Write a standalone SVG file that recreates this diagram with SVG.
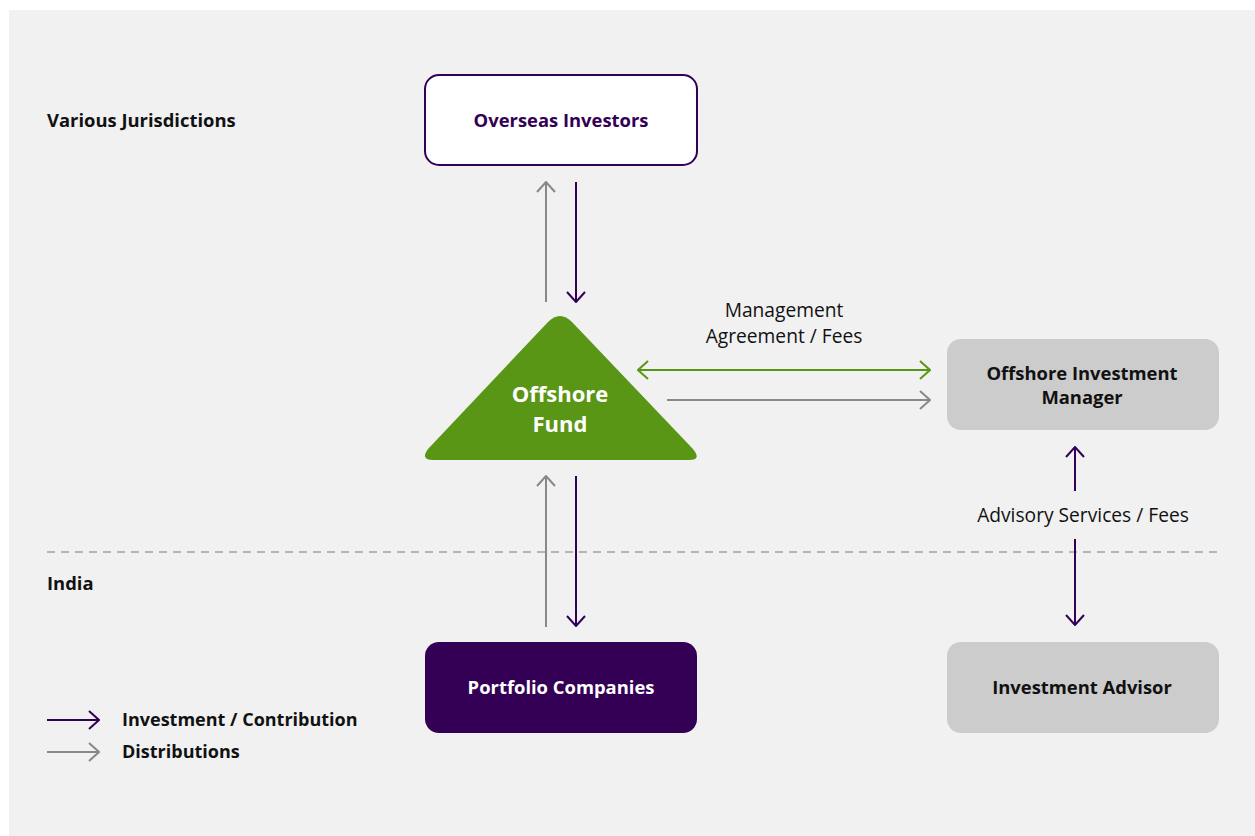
<svg xmlns="http://www.w3.org/2000/svg" width="1255" height="836" viewBox="0 0 1255 836">
<defs>
<style>
.t{font-family:"Open Sans","Liberation Sans",sans-serif;}
.b{font-weight:700;font-size:18.4px;}
.l{font-weight:700;font-size:18px;}
.r{font-weight:400;font-size:19.2px;fill:#111;}
.p{stroke:#330055;stroke-width:2;fill:none;}
.g{stroke:#888888;stroke-width:2;fill:none;}
.gr{stroke:#5a9616;stroke-width:2;fill:none;}
</style>
<marker id="mp" viewBox="0 0 12 20" refX="11" refY="10" markerWidth="12" markerHeight="20" markerUnits="userSpaceOnUse" orient="auto-start-reverse"><path d="M1,1 L11,10 L1,19" fill="none" stroke="#330055" stroke-width="2"/></marker>
<marker id="mg" viewBox="0 0 12 20" refX="11" refY="10" markerWidth="12" markerHeight="20" markerUnits="userSpaceOnUse" orient="auto-start-reverse"><path d="M1,1 L11,10 L1,19" fill="none" stroke="#888888" stroke-width="2"/></marker>
<marker id="mgr" viewBox="0 0 12 20" refX="11" refY="10" markerWidth="12" markerHeight="20" markerUnits="userSpaceOnUse" orient="auto-start-reverse"><path d="M1,1 L11,10 L1,19" fill="none" stroke="#5a9616" stroke-width="2"/></marker>
</defs>
<rect x="0" y="0" width="1255" height="836" fill="#ffffff"/>
<rect x="9" y="10" width="1246" height="826" fill="#f1f1f1"/>
<g id="regions">
<line x1="47" y1="552" x2="1219" y2="552" stroke="#a0a0a0" stroke-width="1.5" stroke-dasharray="8,6"/>
<text class="t b" x="47" y="127" fill="#111">Various Jurisdictions</text>
<text class="t b" x="47" y="590" fill="#111">India</text>
</g>
<g id="node-overseas">
<rect x="425" y="75" width="272" height="90" rx="14" fill="#ffffff" stroke="#330055" stroke-width="2"/>
<text class="t b" x="561" y="127" text-anchor="middle" fill="#330055">Overseas Investors</text>
</g>
<g id="node-fund">
<path d="M548,322 Q560,310 572,322 L693,449 Q702,460 689,460 L433,460 Q420,460 428,449 Z" fill="#5a9616"/>
<text class="t" x="560" y="402" text-anchor="middle" fill="#ffffff" font-size="22" font-weight="700">Offshore</text>
<text class="t" x="560" y="432" text-anchor="middle" fill="#ffffff" font-size="22" font-weight="700">Fund</text>
</g>
<g id="node-oim">
<rect x="947" y="339" width="272" height="91" rx="14" fill="#cccccc"/>
<text class="t b" x="1082" y="380" text-anchor="middle" fill="#111">Offshore Investment</text>
<text class="t b" x="1082" y="404" text-anchor="middle" fill="#111">Manager</text>
</g>
<g id="node-advisor">
<rect x="947" y="642" width="272" height="91" rx="14" fill="#cccccc"/>
<text class="t b" x="1082" y="694" text-anchor="middle" fill="#111">Investment Advisor</text>
</g>
<g id="node-portfolio">
<rect x="425" y="642" width="272" height="91" rx="14" fill="#330055"/>
<text class="t b" x="561" y="694" text-anchor="middle" fill="#ffffff">Portfolio Companies</text>
</g>
<g id="connectors">
<line class="g" x1="546" y1="302" x2="546" y2="182" marker-end="url(#mg)"/>
<line class="p" x1="576" y1="182" x2="576" y2="302" marker-end="url(#mp)"/>
<line class="g" x1="546" y1="627" x2="546" y2="476" marker-end="url(#mg)"/>
<line class="p" x1="576" y1="476" x2="576" y2="626" marker-end="url(#mp)"/>
<line class="gr" x1="638" y1="370" x2="930" y2="370" marker-start="url(#mgr)" marker-end="url(#mgr)"/>
<line class="g" x1="667" y1="400" x2="930" y2="400" marker-end="url(#mg)"/>
<line class="p" x1="1075" y1="491" x2="1075" y2="447" marker-end="url(#mp)"/>
<line class="p" x1="1075" y1="539" x2="1075" y2="625" marker-end="url(#mp)"/>
<text class="t r" x="784" y="317" text-anchor="middle">Management</text>
<text class="t r" x="784" y="343" text-anchor="middle">Agreement / Fees</text>
<text class="t r" x="1083" y="522" text-anchor="middle">Advisory Services / Fees</text>
</g>
<g id="legend">
<line class="p" x1="47" y1="720" x2="99" y2="720" marker-end="url(#mp)"/>
<line class="g" x1="47" y1="752" x2="99" y2="752" marker-end="url(#mg)"/>
<text class="t l" x="122" y="726" fill="#111">Investment / Contribution</text>
<text class="t l" x="122" y="758" fill="#111">Distributions</text>
</g>
</svg>
